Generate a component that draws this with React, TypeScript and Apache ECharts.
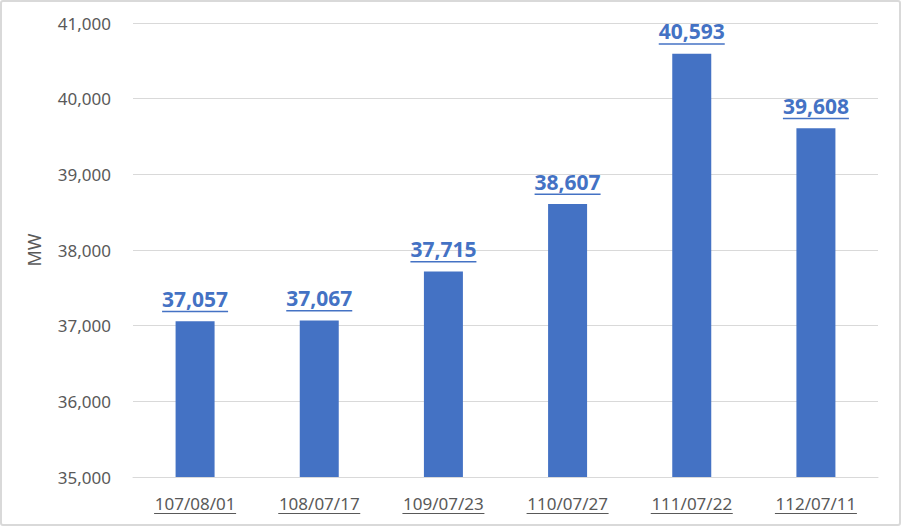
import React, { useEffect, useRef } from "react";
import * as echarts from "echarts";

const categories = ["107/08/01", "108/07/17", "109/07/23", "110/07/27", "111/07/22", "112/07/11"];
const values = [37057, 37067, 37715, 38607, 40593, 39608];
const yMin = 35000;
const yMax = 41000;
const yInterval = 1000;
const yName = "MW";

const FONT = "'Noto Sans', sans-serif";

export default function App() {
  const ref = useRef<HTMLDivElement>(null);
  useEffect(() => {
    document.body.style.margin = "0";
    const chart = echarts.init(ref.current!, null, { renderer: "svg" });
    chart.setOption({
      animation: false,
      backgroundColor: "#ffffff",
      textStyle: { fontFamily: FONT },
      graphic: [
        {
          type: "rect",
          shape: { x: 1, y: 1, width: 899, height: 524, r: 2 },
          style: { fill: "none", stroke: "#d9d9d9", lineWidth: 2 },
          silent: true,
        },
      ],
      grid: { left: 133, right: 24, top: 23, bottom: 50, containLabel: false },
      xAxis: {
        type: "category",
        data: categories,
        axisLine: { lineStyle: { color: "#d9d9d9", width: 1 } },
        axisTick: { show: false },
        axisLabel: {
          margin: 16,
          formatter: (v: string) => `{v|${v}}\n{u|}`,
          rich: {
            v: { fontSize: 17, color: "#595959", fontFamily: FONT, lineHeight: 20 },
            u: { width: 82, height: 1, backgroundColor: "#595959" },
          },
        },
      },
      yAxis: {
        type: "value",
        min: yMin,
        max: yMax,
        interval: yInterval,
        name: yName,
        nameLocation: "middle",
        nameGap: 90,
        nameTextStyle: { fontSize: 18, color: "#595959", fontFamily: FONT },
        axisLine: { show: false },
        axisTick: { show: false },
        splitLine: { lineStyle: { color: "#d9d9d9", width: 1 } },
        axisLabel: {
          margin: 22,
          fontSize: 17,
          color: "#595959",
          fontFamily: FONT,
          formatter: (v: number) => v.toLocaleString("en-US"),
        },
      },
      series: [
        {
          type: "bar",
          data: values,
          barWidth: 39,
          itemStyle: { color: "#4472C4" },
          label: {
            show: true,
            position: "top",
            distance: 9,
            formatter: (p: any) => `{v|${Number(p.value).toLocaleString("en-US")}}\n{u|}`,
            rich: {
              v: { fontSize: 21, fontWeight: "bold", color: "#4472C4", fontFamily: FONT, lineHeight: 24 },
              u: { width: 66, height: 1.5, backgroundColor: "#4472C4" },
            },
          },
        },
      ],
    });
    return () => chart.dispose();
  }, []);
  return <div ref={ref} style={{ width: 902, height: 527 }} />;
}
